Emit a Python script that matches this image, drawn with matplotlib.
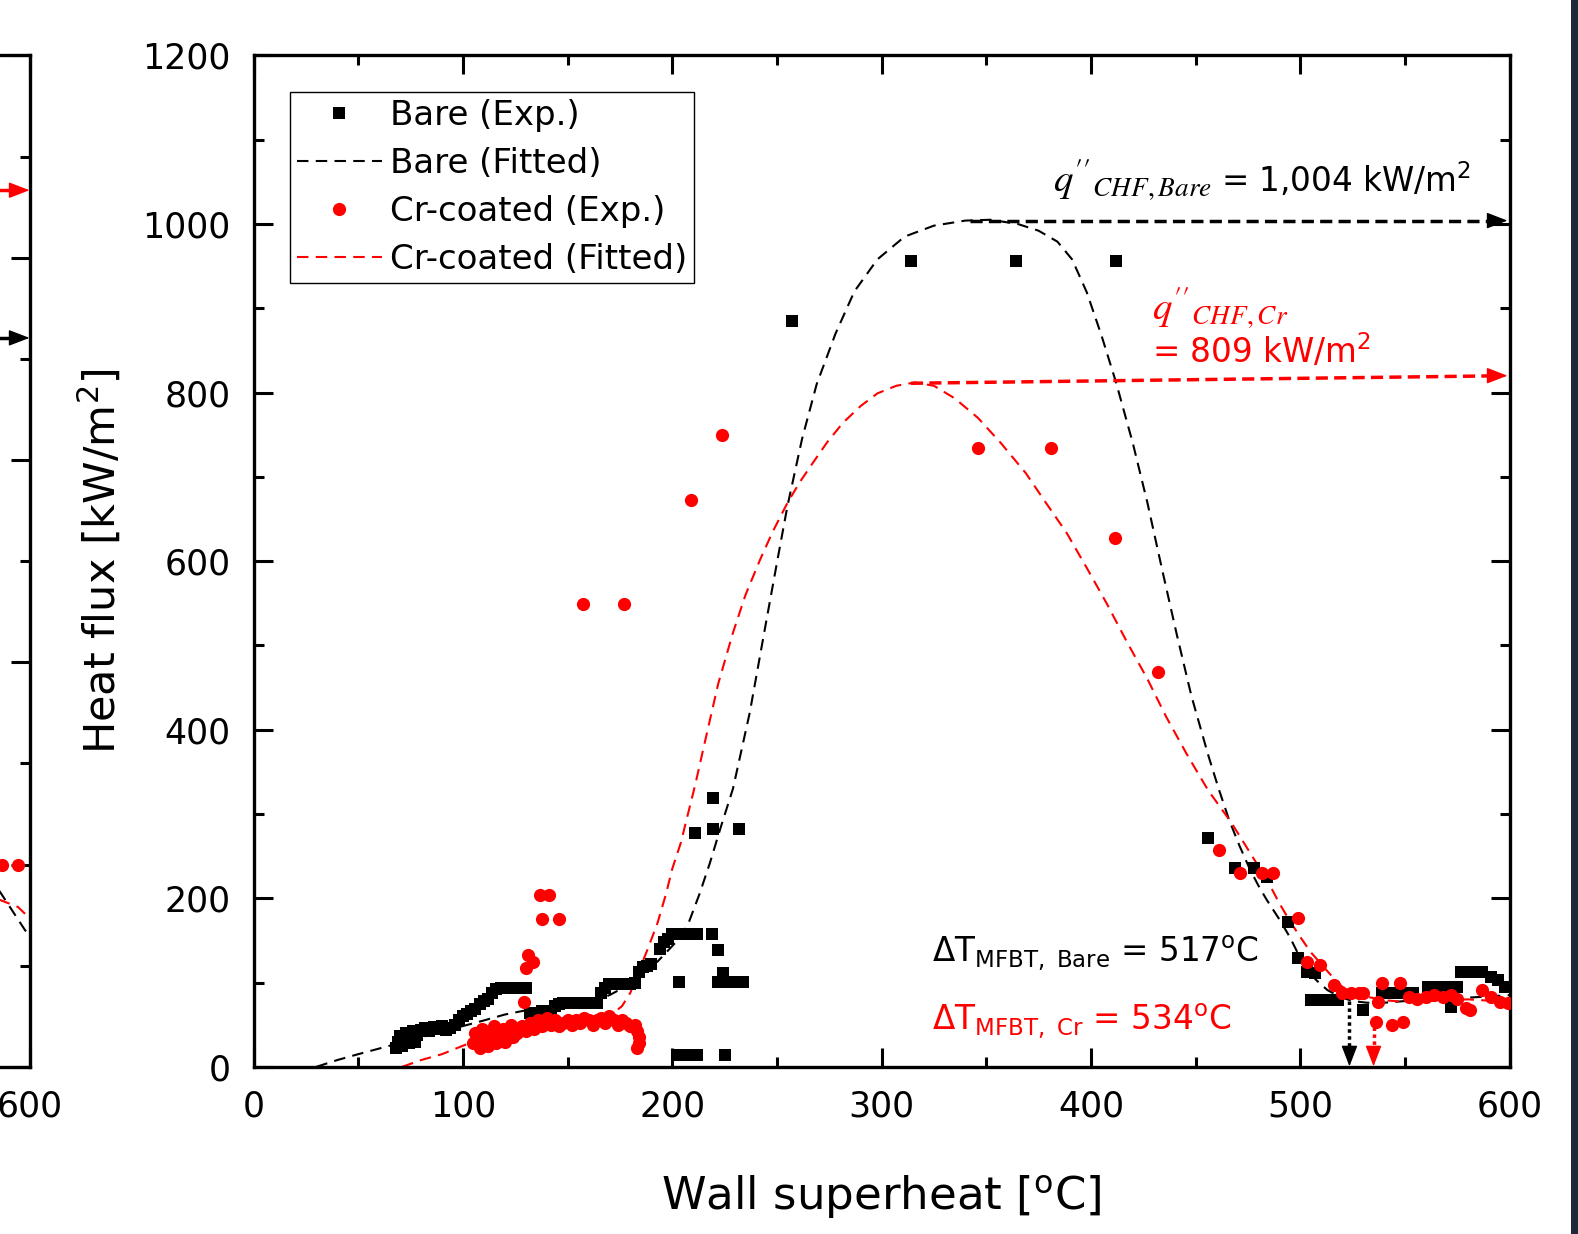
import numpy as np
import matplotlib
matplotlib.use('Agg')
import matplotlib.pyplot as plt
from matplotlib.ticker import MultipleLocator, FuncFormatter
from matplotlib.patches import Rectangle

# ---- values ----
bare_x = [68, 69, 70, 71, 72, 73, 74, 75, 76, 77, 78,
          80, 82, 84, 86, 88, 90, 92, 94, 96,
          98, 100, 102, 104, 106, 108, 110, 112,
          114, 116, 118, 120, 122, 124, 126, 128, 130,
          132, 134, 136, 138, 140, 142,
          144, 146, 148, 150, 152, 154, 156, 158, 160, 162, 164,
          166, 168, 170, 172, 174, 176, 178, 180, 182,
          184, 186, 188, 190, 194, 196, 198, 200, 202, 204, 206, 208, 210, 212,
          219, 222, 224, 203, 222, 225, 228, 231, 234,
          203, 206, 209, 212, 225,
          211, 219.5, 219.5, 232, 257, 314, 364, 412,
          456, 469, 478, 484, 494, 499, 503, 507, 505, 509, 513, 518, 530,
          539, 543, 547, 551, 554, 561, 565, 569, 573, 575, 572,
          577, 580, 583, 587, 591, 594.5, 598]
bare_y = [22, 30, 36, 25, 33, 40, 28, 35, 42, 30, 38,
          44, 46, 42, 47, 45, 48, 44, 46, 50,
          56, 60, 63, 66, 68, 74, 78, 80,
          88, 92, 94, 94, 94, 94, 94, 94, 94,
          64, 62, 64, 66, 66, 66,
          72, 74, 76, 76, 76, 76, 76, 76, 76, 76, 76,
          88, 94, 98, 98, 98, 98, 98, 98, 100,
          112, 118, 120, 122, 140, 148, 152, 157, 157, 157, 157, 157, 157, 157,
          157, 138, 111, 101, 101, 101, 101, 101, 101,
          14, 14, 14, 14, 14,
          277, 282, 319, 282, 885, 956, 956, 956,
          271, 236, 236, 225, 172, 129, 112, 111, 79, 79, 79, 79, 67,
          87, 87, 87, 87, 87, 95, 95, 95, 95, 95, 71,
          112, 112, 112, 112, 106, 103, 95]

cr_x = [105, 106, 107, 108, 109, 110, 111, 112, 113, 114, 115, 116, 117, 118, 119,
        120, 121, 122, 123, 124, 125, 126, 128, 130, 132, 134, 136, 138, 140, 142,
        144, 146, 148, 150, 152, 154, 156, 158, 160, 162, 164, 166, 168, 170, 172,
        174, 176, 178, 180, 182, 183, 184, 184, 183,
        129, 131, 133.5, 130, 137, 141, 138, 146, 157.5, 177, 209, 223.6,
        346, 381, 411.5, 432,
        461, 471, 481.5, 487, 499, 503, 509.5, 516, 520, 524, 528, 530, 537, 536,
        539, 547.5, 544, 549, 552, 556, 560, 564, 568, 572, 575, 579, 581,
        587, 591, 595.5, 599]
cr_y = [28, 40, 35, 22, 45, 30, 38, 25, 42, 33, 48, 28, 40, 35, 45,
        30, 42, 38, 50, 35, 45, 40, 48, 42, 52, 45, 55, 48, 58, 50,
        55, 48, 52, 55, 50, 55, 52, 58, 55, 50, 56, 58, 52, 60, 55,
        50, 56, 52, 48, 50, 42, 35, 28, 22,
        77, 133, 124, 117, 204, 204, 175, 175, 549, 549, 672, 750,
        734, 734, 627, 468,
        257, 230, 230, 230, 176, 124, 121, 97, 87, 87, 87, 87, 77, 53,
        100, 100, 50, 53, 83, 80, 83, 85, 83, 85, 80, 70, 67,
        91, 83, 77, 76]

bare_fit_x = [30, 40, 50, 65, 80, 95, 110, 120, 130, 140, 150, 160, 170, 176, 181,
              187, 193, 198, 204, 208, 213, 218, 223, 229, 233, 237, 241, 245, 250,
              255, 262, 269, 278, 287, 298, 311, 325, 340, 352, 365, 375, 384, 391,
              398, 405, 412, 420, 427, 434, 441, 448, 456, 461, 466, 471, 476, 480,
              484, 490, 495, 499, 503, 508, 513, 519, 525, 532, 540, 550, 560, 580, 600]
bare_fit_y = [0, 8, 15, 25, 35, 45, 55, 62, 67, 70, 72, 77, 85, 93, 105,
              115, 125, 138, 154, 172, 205, 242, 283, 330, 375, 420, 475, 530, 598,
              665, 745, 810, 870, 920, 958, 985, 998, 1004, 1005, 1000, 992, 979, 958,
              919, 868, 812, 740, 669, 590, 513, 440, 370, 330, 293, 262, 234, 215,
              198, 175, 154, 134, 115, 102, 91, 83, 78, 76, 76, 78, 80, 82, 85]

cr_fit_x = [71, 80, 90, 103, 120, 140, 160, 170, 176, 180, 183, 188, 193, 197, 200,
            204, 208, 211, 216, 222, 229, 235, 242, 248, 255, 261, 267, 274, 281.5,
            290, 298, 307, 316, 325, 335, 346, 357, 369, 378, 388.5, 398, 407.7, 417,
            427, 436, 446, 456, 467, 474, 481, 486, 490, 495, 500, 505, 511, 516,
            520, 526, 532, 540, 550, 560, 580, 600]
cr_fit_y = [0, 8, 15, 28, 38, 46, 53, 60, 72, 88, 107, 138, 171, 205, 235,
            265, 305, 335, 390, 455, 515, 560, 602, 635, 669, 694, 716, 741, 764,
            784, 799, 808, 812, 808, 793, 770, 740, 704, 671, 633, 592, 549, 505,
            460, 415, 370, 328, 290, 262, 234, 213, 194, 173, 154, 136, 119, 105,
            95, 88, 83, 79, 77, 78, 80, 77]

# CHF arrows (start x, start y, end y) and MFBT markers (x, top y)
chf_bare_arrow = (342, 1004, 1004)
chf_cr_arrow = (314, 811, 820)
mfbt_bare_arrow = (523.5, 78)
mfbt_cr_arrow = (535, 47)

# bit of the neighbouring panel that shows at the left edge
left_dots_x = [586.8, 594.5]
left_dots_y = [200, 200]
left_bare_fit_x = [570, 585.9, 597.9, 600]
left_bare_fit_y = [215, 173, 135, 130]
left_cr_fit_x = [570, 585.9, 594.5, 598.5, 600]
left_cr_fit_y = [178, 165, 158, 150, 148]
left_arrows_y = [866.7, 720.7]

W, H = 1578, 1234
fig = plt.figure(figsize=(W / 100, H / 100), dpi=100)
ax_l = 253.6 / W
ax_b = 1 - 1066.8 / H
ax_w = 1256 / W
ax_h = 1011.4 / H
ax = fig.add_axes([ax_l, ax_b, ax_w, ax_h])
axL = fig.add_axes([(29.5 - 1256) / W, ax_b, ax_w, ax_h])


def style(a):
    a.tick_params(which='both', direction='in', top=True, right=True,
                  width=2.2, labelsize=25, pad=16.5)
    a.tick_params(which='major', length=14)
    a.tick_params(which='minor', length=7)
    for s in a.spines.values():
        s.set_linewidth(2.4)


dash = (0, (5.5, 3.5))

# main panel
h_bf, = ax.plot(bare_fit_x, bare_fit_y, color='black', lw=1.5, ls=dash, zorder=2)
h_cf, = ax.plot(cr_fit_x, cr_fit_y, color='red', lw=1.5, ls=dash, zorder=2)
h_be, = ax.plot(bare_x, bare_y, 's', color='black', ms=8.3, mew=0, zorder=3)
h_ce, = ax.plot(cr_x, cr_y, 'o', color='red', ms=9.5, mew=0, zorder=4)

ax.set_xlim(0, 600)
ax.set_ylim(0, 1200)
ax.xaxis.set_major_locator(MultipleLocator(100))
ax.xaxis.set_minor_locator(MultipleLocator(50))
ax.yaxis.set_major_locator(MultipleLocator(200))
ax.yaxis.set_minor_locator(MultipleLocator(100))
style(ax)

ax.set_xlabel(r'Wall superheat [$^{\mathrm{o}}$C]', fontsize=32.5)
ax.set_ylabel(r'Heat flux [kW/m$^{2}$]', fontsize=31)
ax.xaxis.set_label_coords(0.5, -0.106)
ax.yaxis.set_label_coords(-0.1024, 0.5)

leg = ax.legend([h_be, h_bf, h_ce, h_cf],
                ['Bare (Exp.)', 'Bare (Fitted)', 'Cr-coated (Exp.)', 'Cr-coated (Fitted)'],
                loc='upper left', bbox_to_anchor=(0.029, 0.9638), borderaxespad=0,
                fontsize=24.5, frameon=True, fancybox=False, edgecolor='black',
                framealpha=1, handlelength=2.5, handletextpad=0.25,
                labelspacing=0.44, borderpad=0.2, numpoints=1)
leg.get_frame().set_linewidth(1.0)

# CHF arrows
head = dict(arrowstyle='-|>,head_length=0.65,head_width=0.25', lw=1,
            mutation_scale=20, shrinkA=0, shrinkB=0)
for (x0, y0, y1), c in [(chf_bare_arrow, 'black'), (chf_cr_arrow, 'red')]:
    ax.plot([x0, 592], [y0, y1 - (y1 - y0) * 8 / (600 - x0)], color=c, lw=2.5,
            ls=(0, (3.5, 1.8)), zorder=5)
    ax.annotate('', xy=(599, y1), xytext=(590, y1),
                arrowprops=dict(head, color=c), zorder=5)

# MFBT arrows
for (x0, top), c in [(mfbt_bare_arrow, 'black'), (mfbt_cr_arrow, 'red')]:
    ax.plot([x0, x0], [top, 10], color=c, lw=2.5, ls=(0, (1, 1)), zorder=5)
    ax.annotate('', xy=(x0, 0.5), xytext=(x0, 14),
                arrowprops=dict(head, color=c), zorder=5)

ax.text(382, 1038, r"$q''_{CHF,Bare}$", fontsize=28,
        math_fontfamily='stix', ha='left', va='baseline')
ax.text(462, 1038, "= 1,004 kW/m$^2$", fontsize=23.5, ha='left', va='baseline')
ax.text(429, 886, r"$q''_{CHF,Cr}$", fontsize=28, color='red',
        math_fontfamily='stix', ha='left', va='baseline')
ax.text(429, 835, r"= 809 kW/m$^2$", fontsize=23.5, color='red',
        ha='left', va='baseline')
ax.text(324, 124, r"$\Delta$T$_{\mathrm{MFBT,\ Bare}}$ = 517$^{\mathrm{o}}$C",
        fontsize=23.5, ha='left', va='baseline')
ax.text(324, 43.7, r"$\Delta$T$_{\mathrm{MFBT,\ Cr}}$ = 534$^{\mathrm{o}}$C",
        fontsize=23.5, color='red', ha='left', va='baseline')

# neighbouring panel (only its right edge is in frame)
axL.plot(left_bare_fit_x, left_bare_fit_y, color='black', lw=1.5, ls=dash)
axL.plot(left_cr_fit_x, left_cr_fit_y, color='red', lw=1.5, ls=dash)
axL.plot(left_dots_x, left_dots_y, 'o', color='red', ms=9.5, mew=0)
axL.plot([560, 592], [left_arrows_y[0]] * 2, color='red', lw=2.5, ls=(0, (3.5, 1.8)))
axL.annotate('', xy=(600, left_arrows_y[0]), xytext=(590, left_arrows_y[0]),
             arrowprops=dict(head, color='red'))
axL.plot([560, 592], [left_arrows_y[1]] * 2, color='black', lw=2.5)
axL.annotate('', xy=(600, left_arrows_y[1]), xytext=(590, left_arrows_y[1]),
             arrowprops=dict(head, color='black'))
axL.set_xlim(0, 600)
axL.set_ylim(0, 1000)
axL.xaxis.set_major_locator(MultipleLocator(100))
axL.xaxis.set_minor_locator(MultipleLocator(50))
axL.yaxis.set_major_locator(MultipleLocator(200))
axL.yaxis.set_minor_locator(MultipleLocator(100))
style(axL)
# only the last x label of that panel is in the frame
axL.xaxis.set_major_formatter(FuncFormatter(lambda v, p: '%d' % v if v >= 600 else ''))
axL.tick_params(labelleft=False)

# dark strip on the right edge of the screenshot
fig.patches.append(Rectangle((1571 / W, 0), 7 / W, 1, transform=fig.transFigure,
                             facecolor='#1e2838', edgecolor='none'))

fig.savefig('out.png', dpi=100)
